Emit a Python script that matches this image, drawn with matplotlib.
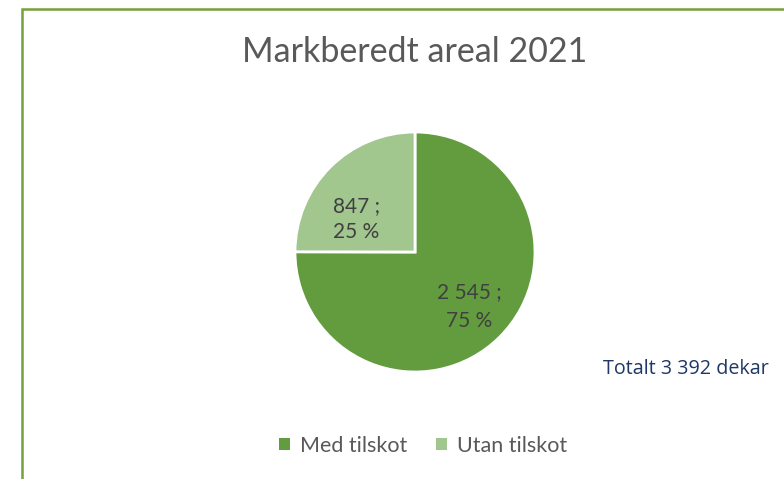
import matplotlib
matplotlib.use("Agg")
import matplotlib.pyplot as plt
from matplotlib.patches import Rectangle, Patch

# data
categories = ["Med tilskot", "Utan tilskot"]
values = [2545, 847]
colors = ["#629C3F", "#A1C68E"]
title = "Markberedt areal 2021"
total_note = "Totalt 3 392 dekar"

plt.rcParams["font.family"] = ["Lato", "DejaVu Sans"]

W, H = 784, 479
fig = plt.figure(figsize=(W / 100, H / 100), dpi=100)

# chart border (only left and top visible in the crop)
fig.patches.append(Rectangle((21.5 / W, -0.1), 1.2, (H - 9) / H + 0.1,
                             transform=fig.transFigure, fill=False,
                             edgecolor="#76A03A", linewidth=1.8))

cx, cy, r = 415, 252, 120
ax = fig.add_axes([(cx - r) / W, (H - cy - r) / H, 2 * r / W, 2 * r / H])

total = sum(values)


def fmt(pct):
    v = int(round(pct * total / 100))
    return "{:,} ;\n{:.0f} %".format(v, pct).replace(",", " ")


wedges, texts, autotexts = ax.pie(values, colors=colors, startangle=90,
                                  counterclock=False, autopct=fmt,
                                  pctdistance=0.64,
                                  wedgeprops=dict(edgecolor="white", linewidth=2),
                                  textprops=dict(color="#404040", fontsize=15,
                                                 linespacing=1.55))
# excel "best fit" puts the small slice label a bit lower
autotexts[1].set_position((-0.49, 0.275))
autotexts[1].set_linespacing(1.35)
ax.set_xlim(-1, 1)
ax.set_ylim(-1, 1)
ax.set_aspect("equal")

fig.text(cx / W, 1 - 52 / H, title, ha="center", va="center",
         fontsize=24.5, color="#595959")

fig.text(769 / W, 1 - 369 / H, total_note, ha="right", va="center",
         fontsize=14.2, color="#1F3864", family=["Open Sans", "DejaVu Sans"])

handles = [Patch(facecolor=c, edgecolor="none") for c in colors]
fig.legend(handles, categories, loc="center", bbox_to_anchor=(423 / W, 33 / H),
           ncol=2, frameon=False, fontsize=15.5, labelcolor="#595959",
           handlelength=0.5, handleheight=0.5, handletextpad=0.45,
           columnspacing=1.35)

fig.savefig("out.png", dpi=100)
